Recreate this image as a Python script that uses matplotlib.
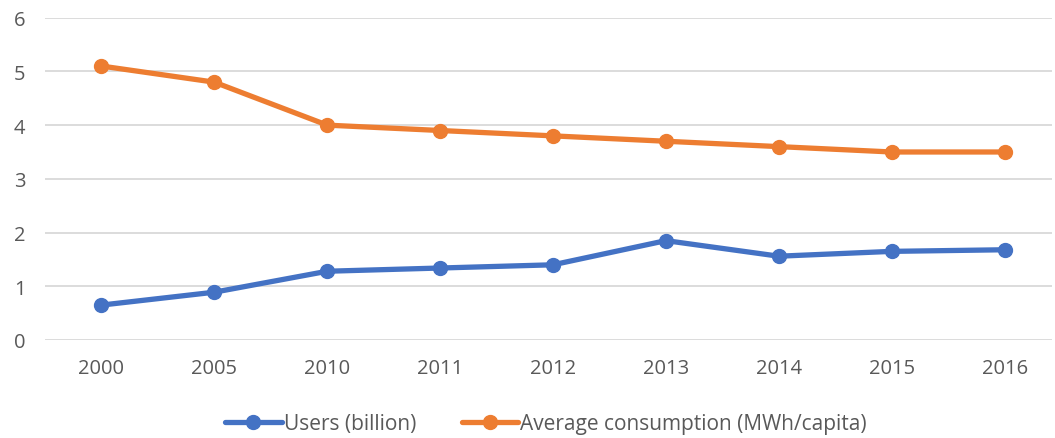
import numpy as np
import matplotlib.pyplot as plt

# Data
years = ['2000', '2005', '2010', '2011', '2012', '2013', '2014', '2015', '2016']
users = [0.65, 0.89, 1.28, 1.34, 1.40, 1.85, 1.56, 1.65, 1.68]
consumption = [5.1, 4.8, 4.0, 3.9, 3.8, 3.7, 3.6, 3.5, 3.5]

plt.rcParams['font.family'] = ['Open Sans', 'DejaVu Sans']

fig = plt.figure(figsize=(10.55, 4.39), dpi=100)
ax = fig.add_axes([45 / 1055, 1 - 341 / 439, (1052 - 45) / 1055, (341 - 18.7) / 439])

x = np.arange(len(years))
ax.plot(x, users, color='#4472C4', lw=3.8, marker='o', ms=10, label='Users (billion)',
        solid_capstyle='round', zorder=3)
ax.plot(x, consumption, color='#ED7D31', lw=3.8, marker='o', ms=10,
        label='Average consumption (MWh/capita)', solid_capstyle='round', zorder=3)

ax.set_xlim(-0.5, 8.42)
ax.set_ylim(0, 6)
ax.set_yticks(range(0, 7))
ax.set_xticks(x)
ax.set_xticklabels(years)
ax.grid(axis='y', color='#D9D9D9', lw=1.3)
ax.set_axisbelow(True)
for s in ax.spines.values():
    s.set_visible(False)
ax.tick_params(length=0, labelsize=14.5, colors='#595959')
ax.tick_params(axis='x', pad=13)
ax.tick_params(axis='y', pad=14)

leg = fig.legend(loc='center', bbox_to_anchor=(546 / 1055, 1 - 425 / 439), ncol=2,
                 frameon=False, fontsize=15, handlelength=2.7, columnspacing=2.2,
                 handletextpad=0.1)
for t in leg.get_texts():
    t.set_color('#595959')

fig.savefig('out.png', dpi=100)
